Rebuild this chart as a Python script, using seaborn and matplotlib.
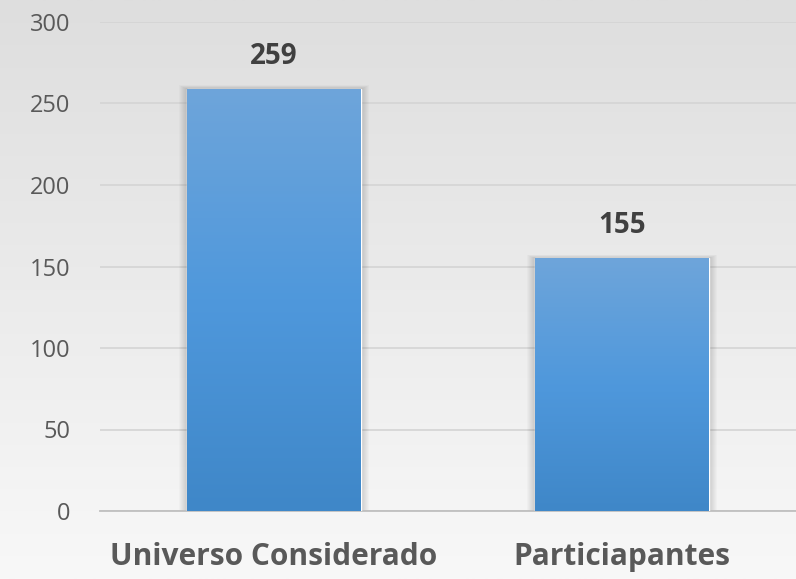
import numpy as np
import pandas as pd
import matplotlib
matplotlib.use("Agg")
import matplotlib.pyplot as plt
import seaborn as sns
from matplotlib.colors import LinearSegmentedColormap
from matplotlib.patches import Rectangle

categorias = ["Universo Considerado", "Particiapantes"]
valores = [259, 155]

df = pd.DataFrame({"Grupo": categorias, "Total": valores})

sns.set_theme(style="white")
plt.rcParams["font.family"] = ["Open Sans", "DejaVu Sans"]

fig = plt.figure(figsize=(7.96, 5.79), dpi=100)

# fondo degradado (gris arriba, casi blanco abajo)
bg = fig.add_axes([0, 0, 1, 1], zorder=-10)
grad = np.linspace(0, 1, 256).reshape(-1, 1)
bg_cmap = LinearSegmentedColormap.from_list("bg", ["#f8f8f8", "#dedede"])
bg.imshow(grad, aspect="auto", cmap=bg_cmap, origin="lower", extent=[0, 1, 0, 1])
bg.axis("off")

ax = fig.add_axes([100 / 796, 68 / 579, 696 / 796, 489 / 579])
ax.patch.set_alpha(0)

sns.barplot(x="Grupo", y="Total", data=df, width=0.5, color="#5b9bd5", errorbar=None, ax=ax, zorder=3)

ax.set_xlim(-0.5, 1.5)
ax.set_ylim(0, 300)
ax.set_yticks(range(0, 301, 50))
ax.yaxis.grid(True, color="#d4d4d4", linewidth=1.2, zorder=0)
ax.set_axisbelow(True)
for s in ["top", "right", "left"]:
    ax.spines[s].set_visible(False)
ax.spines["bottom"].set_color("#bfbfbf")
ax.spines["bottom"].set_linewidth(1.3)
ax.tick_params(axis="y", length=0, pad=21.5, labelsize=17, labelcolor="#595959")
ax.tick_params(axis="x", length=0, pad=22, labelsize=21.5, labelcolor="#595959")
for t in ax.get_xticklabels():
    t.set_fontweight("bold")
ax.set_xlabel("")
ax.set_ylabel("")

# degradado de las barras y sombra suave
bar_cmap = LinearSegmentedColormap.from_list("bar", ["#3f87c8", "#4f98dc", "#6ea5da"])
for p, v in zip(ax.patches, valores):
    x0, w, h = p.get_x(), p.get_width(), p.get_height()
    for i in range(8):
        d = 0.024 - i * 0.003
        sh = Rectangle((x0 - d, 0), w + 2 * d, h + d * 90, color="black",
                       alpha=0.018, zorder=2, lw=0)
        ax.add_patch(sh)
    im = ax.imshow(grad, aspect="auto", cmap=bar_cmap, origin="lower",
                   extent=[x0, x0 + w, 0, h], zorder=4)
    im.set_clip_path(p)
    ax.text(x0 + w / 2, h + 11, str(v), ha="center", va="bottom",
            fontsize=20, fontweight="bold", color="#404040")

ax.set_xlim(-0.5, 1.5)
ax.set_ylim(0, 300)

fig.savefig("out.png", dpi=100)
